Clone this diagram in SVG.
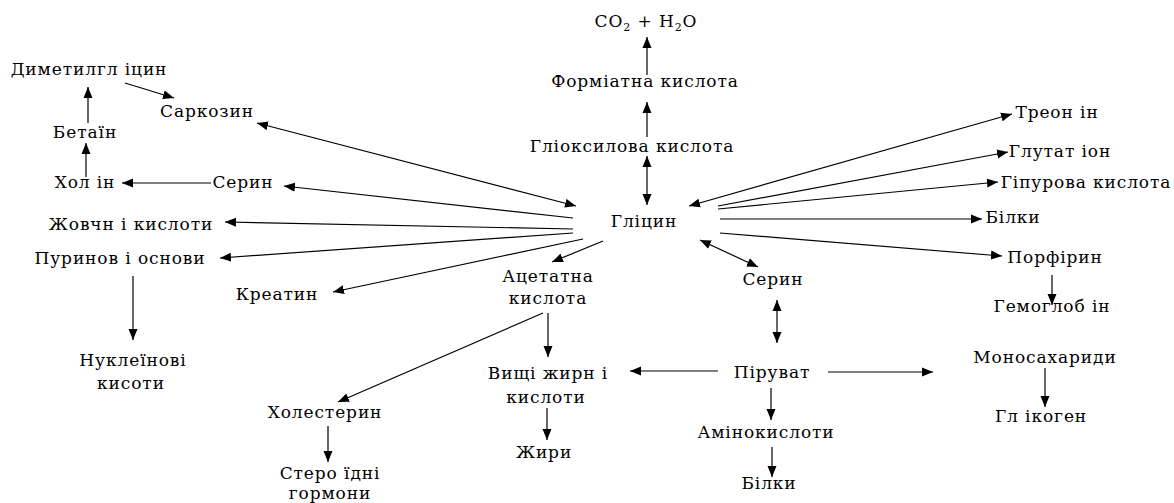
<svg xmlns="http://www.w3.org/2000/svg" width="1174" height="503" viewBox="0 0 1174 503">
  <style>
    text { font-family: "DejaVu Serif", "Liberation Serif", serif; font-size: 17px; letter-spacing: 0.9px; fill: #000; text-anchor: middle; }
    .c line { stroke: #000; stroke-width: 1.2; fill: none; }
    .one { marker-end: url(#ah); }
    .two { marker-start: url(#ah); marker-end: url(#ah); }
  </style>
  <defs>
    <marker id="ah" markerUnits="userSpaceOnUse" markerWidth="12" markerHeight="10" refX="11" refY="4.5" orient="auto-start-reverse" viewBox="0 0 12 9">
      <path d="M0,0 L11,4.5 L0,9 z" fill="#000"/>
    </marker>
  </defs>

  <!-- connectors -->
  <g class="c" id="connectors">
    <!-- choline branch -->
    <line class="one" x1="125" y1="83" x2="174" y2="98"/>
    <line class="one" x1="88" y1="123" x2="88" y2="87"/>
    <line class="one" x1="86" y1="177" x2="86" y2="143"/>
    <line class="one" x1="211" y1="183" x2="122" y2="183"/>
    <!-- from glycine to the left -->
    <line class="two" x1="257" y1="123" x2="576" y2="206"/>
    <line class="one" x1="573" y1="218" x2="284" y2="186"/>
    <line class="one" x1="573" y1="229" x2="225" y2="222"/>
    <line class="one" x1="573" y1="233" x2="220" y2="258"/>
    <line class="one" x1="583" y1="239" x2="333" y2="292"/>
    <line class="one" x1="603" y1="241" x2="552" y2="262"/>
    <line class="one" x1="133" y1="276" x2="133" y2="340"/>
    <!-- upward chain -->
    <line class="two" x1="647" y1="156" x2="647" y2="205"/>
    <line class="one" x1="647" y1="137" x2="647" y2="102"/>
    <line class="one" x1="647" y1="75" x2="647" y2="37"/>
    <!-- from glycine to the right -->
    <line class="two" x1="689" y1="206" x2="1012" y2="114"/>
    <line class="one" x1="718" y1="206" x2="1008" y2="152"/>
    <line class="one" x1="718" y1="209" x2="998" y2="182"/>
    <line class="one" x1="720" y1="219" x2="982" y2="219"/>
    <line class="one" x1="720" y1="233" x2="1002" y2="256"/>
    <line class="one" x1="1052" y1="275" x2="1052" y2="305"/>
    <line class="two" x1="700" y1="240" x2="758" y2="267"/>
    <!-- pyruvate -->
    <line class="two" x1="777" y1="300" x2="777" y2="343"/>
    <line class="one" x1="718" y1="371" x2="630" y2="371"/>
    <line class="one" x1="828" y1="372" x2="933" y2="372"/>
    <line class="one" x1="771" y1="388" x2="771" y2="420"/>
    <line class="one" x1="772" y1="447" x2="772" y2="477"/>
    <line class="one" x1="1045" y1="368" x2="1045" y2="407"/>
    <!-- acetate -->
    <line class="one" x1="548" y1="313" x2="548" y2="357"/>
    <line class="one" x1="543" y1="313" x2="338" y2="402"/>
    <line class="one" x1="547" y1="408" x2="547" y2="440"/>
    <line class="one" x1="328" y1="426" x2="328" y2="462"/>
  </g>

  <!-- nodes -->
  <g id="n-co2"><text x="646" y="27">CO<tspan font-size="11" dy="4">2</tspan><tspan dy="-4"> + H</tspan><tspan font-size="11" dy="4">2</tspan><tspan dy="-4">O</tspan></text></g>
  <g id="n-formiat"><text x="645" y="87">Формiатна кислота</text></g>
  <g id="n-glioksyl"><text x="632" y="152">Гліоксилова кислота</text></g>
  <g id="n-glicyn"><text x="644" y="227">Гліцин</text></g>
  <g id="n-dymetyl"><text x="89" y="75">Диметилгл іцин</text></g>
  <g id="n-sarkozyn"><text x="207" y="117">Саркозин</text></g>
  <g id="n-betain"><text x="85" y="138">Бетаїн</text></g>
  <g id="n-cholin"><text x="85" y="188">Хол ін</text></g>
  <g id="n-seryn-l"><text x="243" y="188">Серин</text></g>
  <g id="n-zhovchni"><text x="131" y="230">Жовчн і кислоти</text></g>
  <g id="n-puryny"><text x="120" y="264">Пуринов і основи</text></g>
  <g id="n-kreatyn"><text x="277" y="300">Креатин</text></g>
  <g id="n-nukleinovi"><text x="133" y="366">Нуклеїнові</text><text x="131" y="389">кисоти</text></g>
  <g id="n-acetat"><text x="548" y="282">Ацетатна</text><text x="548" y="304">кислота</text></g>
  <g id="n-vyshchi"><text x="548" y="379">Вищі жирн і</text><text x="546" y="403">кислоти</text></g>
  <g id="n-zhyry"><text x="544" y="458">Жири</text></g>
  <g id="n-cholesteryn"><text x="325" y="418">Холестерин</text></g>
  <g id="n-steroidni"><text x="330" y="479">Стеро їдні</text><text x="330" y="499">гормони</text></g>
  <g id="n-seryn-c"><text x="773" y="285">Серин</text></g>
  <g id="n-piruvat"><text x="772" y="378">Піруват</text></g>
  <g id="n-aminokysloty"><text x="766" y="438">Амінокислоти</text></g>
  <g id="n-bilky-b"><text x="769" y="489">Білки</text></g>
  <g id="n-treonin"><text x="1057" y="118">Треон ін</text></g>
  <g id="n-glutation"><text x="1060" y="157">Глутат іон</text></g>
  <g id="n-gipurova"><text x="1086" y="188">Гіпурова кислота</text></g>
  <g id="n-bilky-r"><text x="1013" y="223">Білки</text></g>
  <g id="n-porfiryn"><text x="1055" y="263">Порфірин</text></g>
  <g id="n-gemoglobin"><text x="1052" y="312">Гемоглоб ін</text></g>
  <g id="n-monosacharydy"><text x="1045" y="363">Моносахариди</text></g>
  <g id="n-glikogen"><text x="1041" y="422">Гл ікоген</text></g>
</svg>
